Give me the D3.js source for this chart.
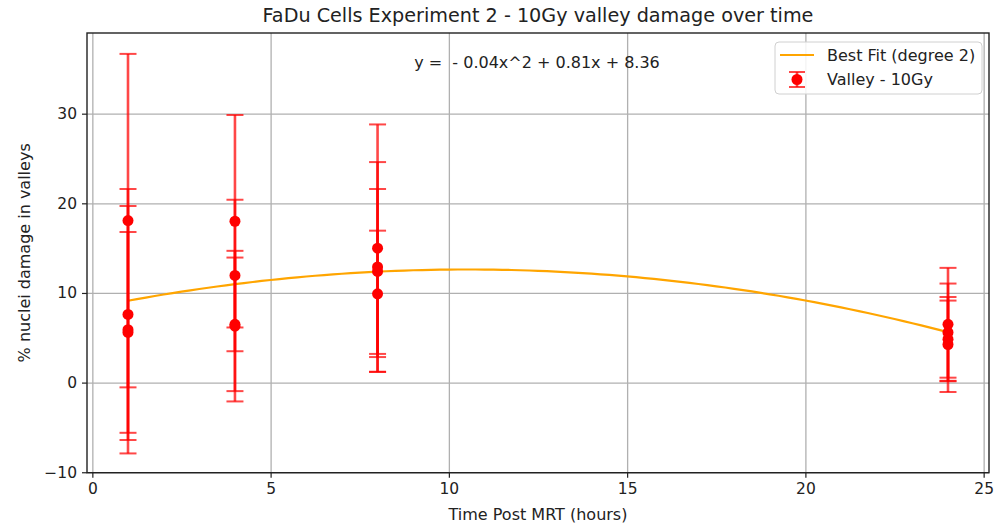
<!DOCTYPE html>
<html>
<head>
<meta charset="utf-8">
<script src="https://cdn.jsdelivr.net/npm/d3@7"></script>
<style>
  body { margin: 0; background: #fff; }
  svg { font-family: "DejaVu Sans", sans-serif; }
</style>
</head>
<body>
<svg width="1002" height="527"></svg>
<script>
// values
const timeHours = [1, 1, 1, 1, 4, 4, 4, 4, 8, 8, 8, 8, 24, 24, 24, 24];
const damage = [18.07, 7.6, 5.9, 5.6, 18.0, 11.95, 6.5, 6.3, 15.0, 12.9, 12.4, 9.9, 6.5, 5.6, 4.85, 4.25];
const damageErr = [18.6, 14.0, 13.8, 11.2, 11.85, 8.45, 7.45, 8.4, 13.8, 11.7, 9.2, 7.05, 6.3, 5.45, 4.3, 5.3];
const fitCoef = [-0.0385, 0.81, 8.36];   // a, b, c  (shown rounded in the label)
const xTicks = [0, 5, 10, 15, 20, 25];
const yTicks = [-10, 0, 10, 20, 30];

const titleText = "FaDu Cells Experiment 2 - 10Gy valley damage over time";
const eqText = "y =  - 0.04x^2 + 0.81x + 8.36";

let points = timeHours.map((t, i) => ({t: t, v: damage[i], e: damageErr[i]}));

let svg = d3.select("svg");
let pLeft = 87, pRight = 989, pTop = 33, pBottom = 472.7;

let x = d3.scaleLinear().domain([-0.15, 25.15]).range([pLeft, pRight]);
let y = d3.scaleLinear().domain([-10.05, 39.0]).range([pBottom, pTop]);
let fmt = d => d < 0 ? "\u2212" + Math.abs(d) : String(d);

// grid
svg.append("g")
  .attr("transform", `translate(0,${pBottom})`)
  .call(d3.axisBottom(x).tickValues(xTicks).tickSize(-(pBottom - pTop)).tickFormat(""))
  .call(g => g.select(".domain").remove())
  .selectAll("line").attr("stroke", "#b0b0b0").attr("stroke-width", 1.3);
svg.append("g")
  .attr("transform", `translate(${pLeft},0)`)
  .call(d3.axisLeft(y).tickValues(yTicks).tickSize(-(pRight - pLeft)).tickFormat(""))
  .call(g => g.select(".domain").remove())
  .selectAll("line").attr("stroke", "#b0b0b0").attr("stroke-width", 1.3);

// best fit curve
let fitX = d3.range(1, 24.001, 0.25);
let fitLine = d3.line()
  .x(d => x(d))
  .y(d => y(fitCoef[0] * d * d + fitCoef[1] * d + fitCoef[2]));
svg.append("path")
  .datum(fitX)
  .attr("d", fitLine)
  .attr("fill", "none")
  .attr("stroke", "orange")
  .attr("stroke-width", 2.2);

// error bars
let cap = 8.5;
let bars = svg.append("g").attr("stroke", "red").attr("stroke-opacity", 0.72);
bars.selectAll("line.err")
  .data(points)
  .join("line")
  .attr("class", "err")
  .attr("x1", d => x(d.t)).attr("x2", d => x(d.t))
  .attr("y1", d => y(d.v - d.e)).attr("y2", d => y(d.v + d.e))
  .attr("stroke-width", 2.6);
["hi", "lo"].forEach(side => {
  bars.selectAll("line.cap" + side)
    .data(points)
    .join("line")
    .attr("class", "cap" + side)
    .attr("x1", d => x(d.t) - cap).attr("x2", d => x(d.t) + cap)
    .attr("y1", d => y(side == "hi" ? d.v + d.e : d.v - d.e))
    .attr("y2", d => y(side == "hi" ? d.v + d.e : d.v - d.e))
    .attr("stroke-width", 2);
});
svg.append("g").selectAll("circle")
  .data(points)
  .join("circle")
  .attr("cx", d => x(d.t))
  .attr("cy", d => y(d.v))
  .attr("r", 5.5)
  .attr("fill", "red");

// axes
let xAxis = svg.append("g")
  .attr("transform", `translate(0,${pBottom})`)
  .call(d3.axisBottom(x).tickValues(xTicks).tickSize(5).tickPadding(5).tickFormat(fmt));
let yAxis = svg.append("g")
  .attr("transform", `translate(${pLeft},0)`)
  .call(d3.axisLeft(y).tickValues(yTicks).tickSize(5).tickPadding(5).tickFormat(fmt));
[xAxis, yAxis].forEach(a => {
  a.select(".domain").remove();
  a.selectAll("line").attr("stroke", "#222").attr("stroke-width", 1.2);
  a.selectAll("text").attr("font-size", 15.5).attr("fill", "#222")
    .attr("font-family", "DejaVu Sans");
});

// frame
svg.append("rect")
  .attr("x", pLeft).attr("y", pTop)
  .attr("width", pRight - pLeft).attr("height", pBottom - pTop)
  .attr("fill", "none").attr("stroke", "#222").attr("stroke-width", 1.4);

// texts
svg.append("text")
  .attr("x", (pLeft + pRight) / 2).attr("y", 22)
  .attr("text-anchor", "middle").attr("font-size", 19.2).attr("fill", "#222")
  .text(titleText);
svg.append("text")
  .attr("x", 537).attr("y", 68)
  .attr("text-anchor", "middle").attr("font-size", 16).attr("fill", "#222")
  .style("white-space", "pre")
  .text(eqText);
svg.append("text")
  .attr("x", (pLeft + pRight) / 2).attr("y", 520)
  .attr("text-anchor", "middle").attr("font-size", 16).attr("fill", "#222")
  .text("Time Post MRT (hours)");
svg.append("text")
  .attr("transform", `translate(30,${(pTop + pBottom) / 2}) rotate(-90)`)
  .attr("text-anchor", "middle").attr("font-size", 16).attr("fill", "#222")
  .text("% nuclei damage in valleys");

// legend
let lg = svg.append("g").attr("transform", "translate(775,42)");
lg.append("rect")
  .attr("width", 207).attr("height", 52).attr("rx", 4)
  .attr("fill", "white").attr("fill-opacity", 0.85)
  .attr("stroke", "#d0d0d0");
lg.append("line")
  .attr("x1", 5).attr("x2", 39).attr("y1", 13).attr("y2", 13)
  .attr("stroke", "orange").attr("stroke-width", 2.2);
lg.append("text").attr("x", 52).attr("y", 18.5)
  .attr("font-size", 16).attr("fill", "#222").text("Best Fit (degree 2)");
let lgErr = lg.append("g").attr("stroke", "red").attr("stroke-opacity", 0.72);
lgErr.append("line").attr("x1", 22).attr("x2", 22).attr("y1", 30).attr("y2", 45).attr("stroke-width", 2.6);
lgErr.append("line").attr("x1", 14).attr("x2", 30).attr("y1", 30).attr("y2", 30).attr("stroke-width", 2);
lgErr.append("line").attr("x1", 14).attr("x2", 30).attr("y1", 45).attr("y2", 45).attr("stroke-width", 2);
lg.append("circle").attr("cx", 22).attr("cy", 37.5).attr("r", 5.5).attr("fill", "red");
lg.append("text").attr("x", 52).attr("y", 43)
  .attr("font-size", 16).attr("fill", "#222").text("Valley - 10Gy");
</script>
</body>
</html>
